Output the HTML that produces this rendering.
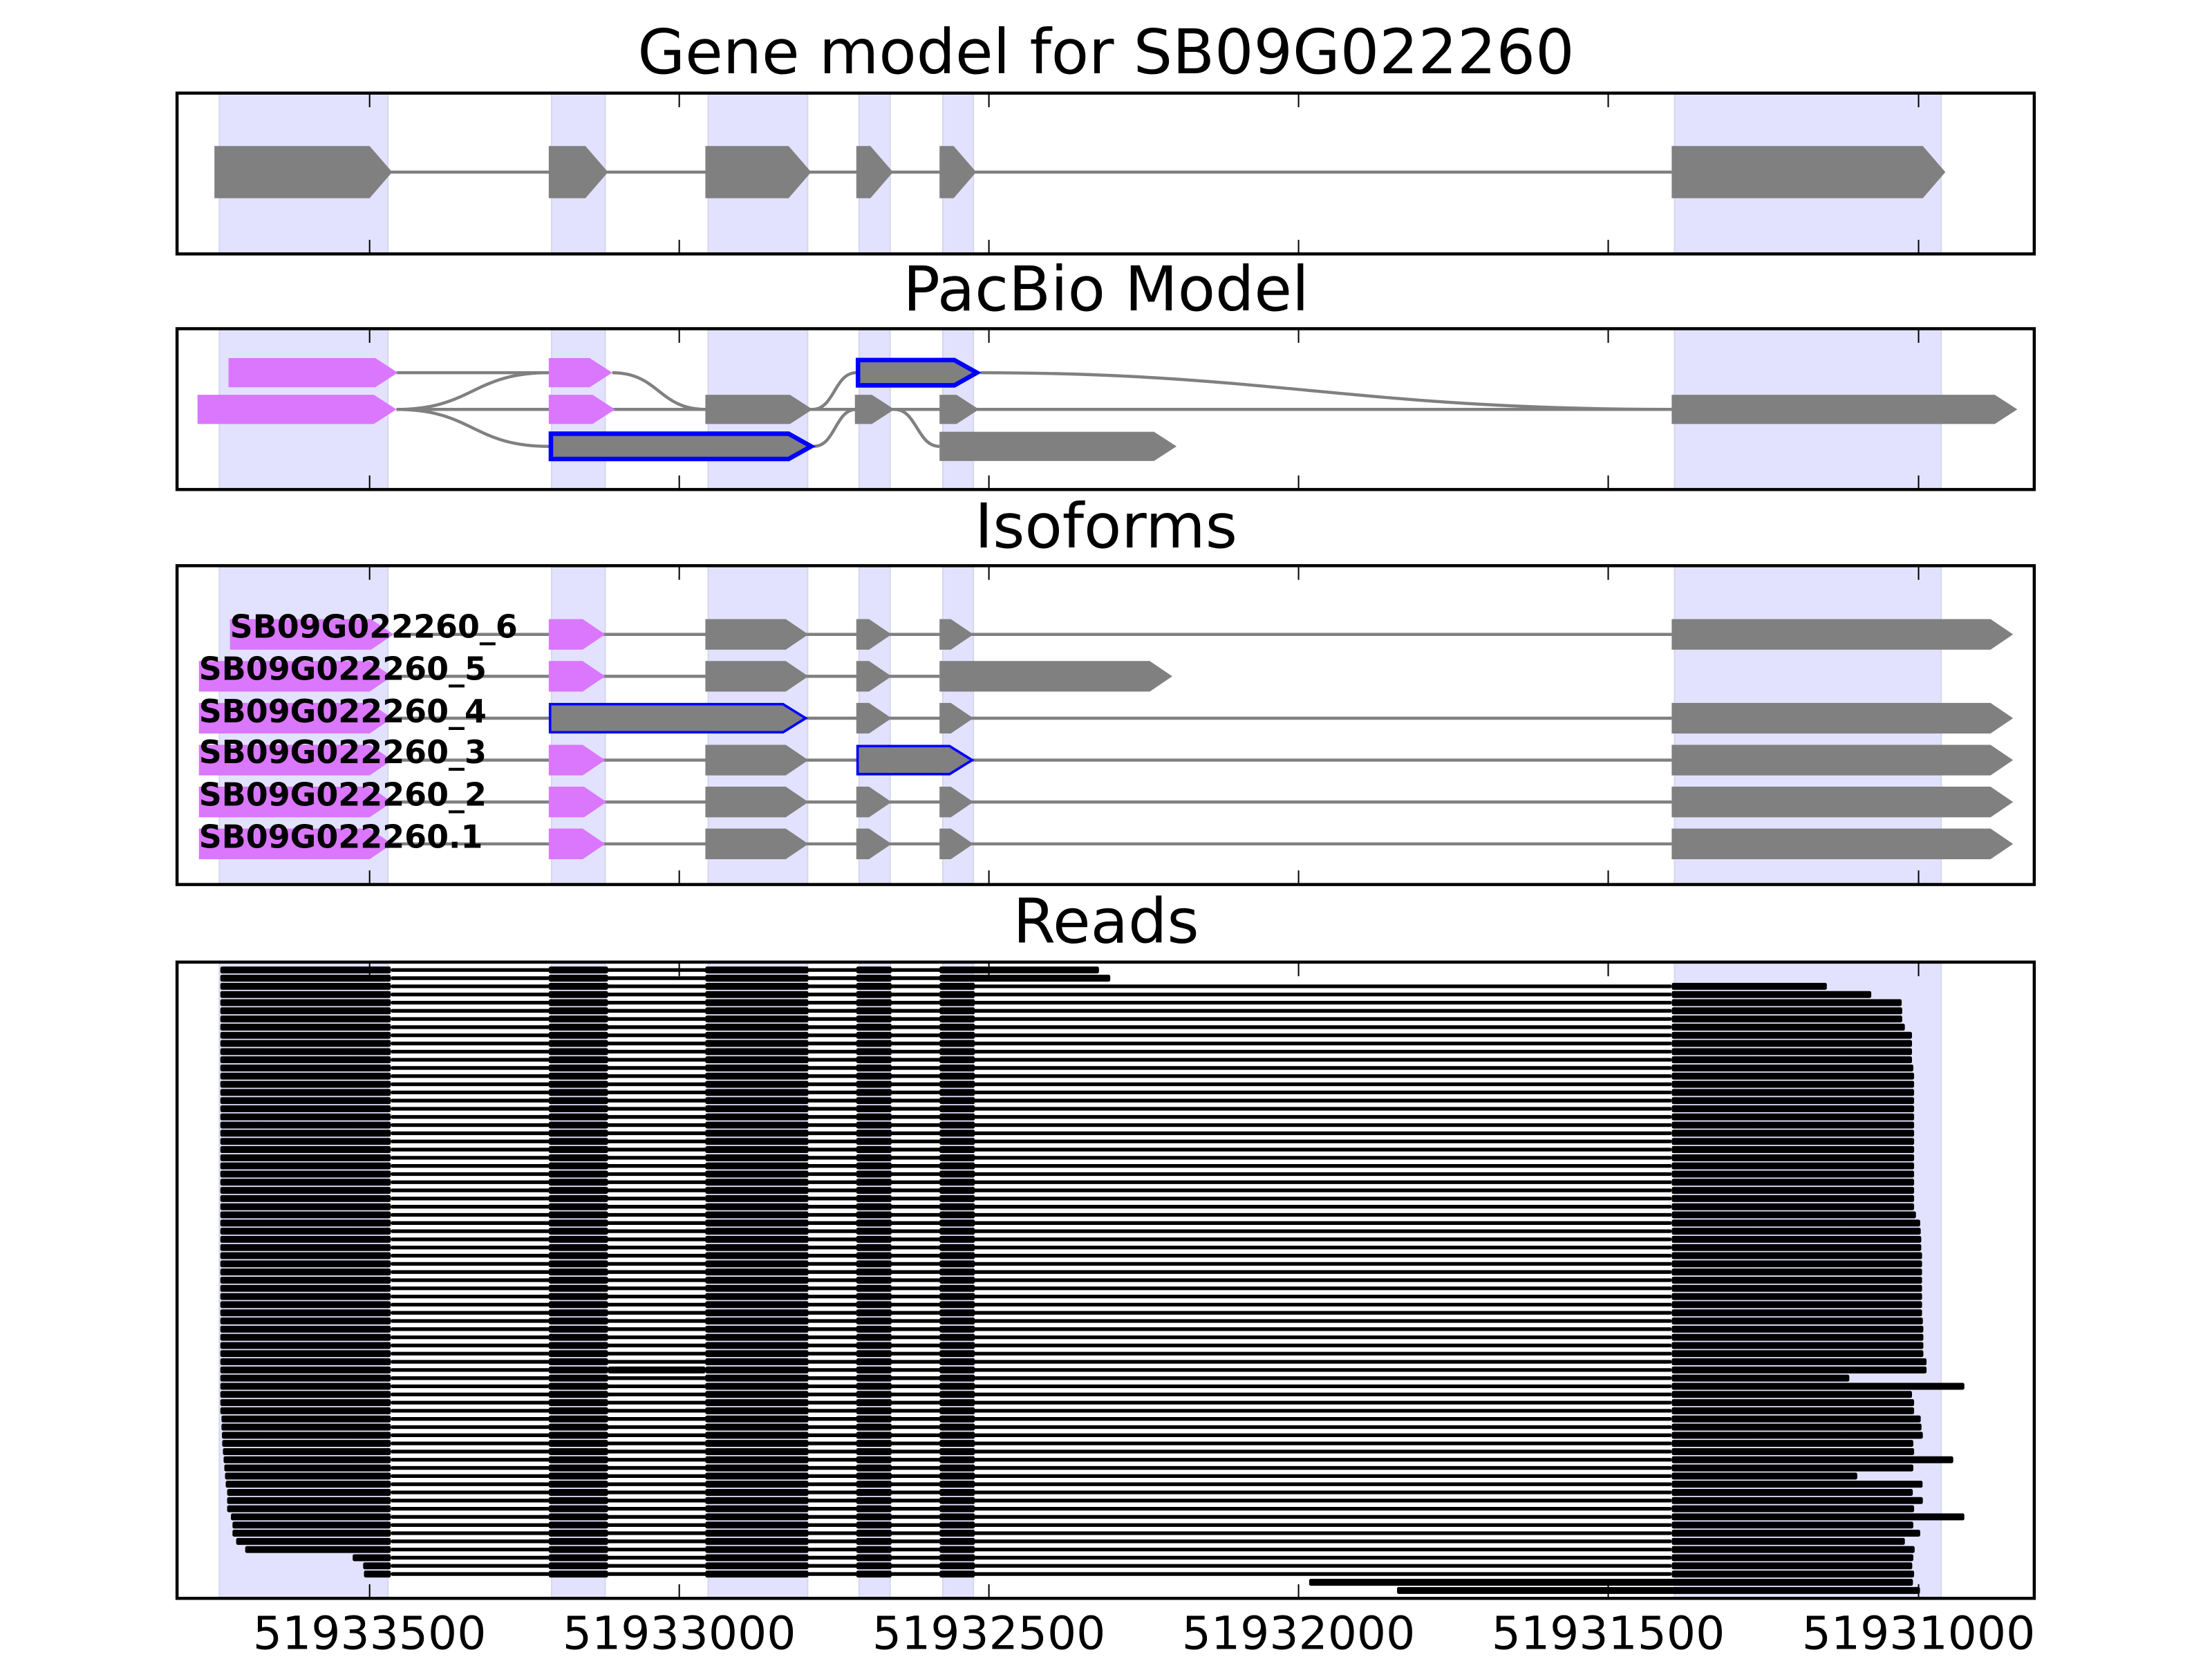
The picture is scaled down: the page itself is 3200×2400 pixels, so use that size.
<!DOCTYPE html>
<html><head><meta charset="utf-8"><style>
html,body{margin:0;padding:0;background:#fff;}
svg{display:block;}
</style></head><body>
<svg id="s" xmlns="http://www.w3.org/2000/svg" width="3200" height="2400" viewBox="0 0 1568 1176" preserveAspectRatio="none" font-family="'DejaVu Sans','Liberation Sans',sans-serif">
<rect width="1568" height="1176" fill="#fff"/>
<g id="bg"></g>
<g id="fg"></g>
<g id="ax"></g>
<g font-size="43.5" text-anchor="middle" fill="#000">
<text x="784" y="52">Gene model for SB09G022260</text>
<text x="784" y="220">PacBio Model</text>
<text x="784" y="388">Isoforms</text>
<text x="784" y="668">Reads</text>
</g>
<g font-size="22.5" font-weight="bold" fill="#000">
<text x="163" y="452">SB09G022260_6</text>
<text x="141" y="482">SB09G022260_5</text>
<text x="141" y="512">SB09G022260_4</text>
<text x="141" y="541">SB09G022260_3</text>
<text x="141" y="571">SB09G022260_2</text>
<text x="141" y="601">SB09G022260.1</text>
</g>
<g font-size="32.5" text-anchor="middle" fill="#000">
<text x="262" y="1169">51933500</text>
<text x="481.5" y="1169">51933000</text>
<text x="701" y="1169">51932500</text>
<text x="920.5" y="1169">51932000</text>
<text x="1140" y="1169">51931500</text>
<text x="1360" y="1169">51931000</text>
</g>
<script>
(function(){
var NS="http://www.w3.org/2000/svg";
var bg=document.getElementById('bg'),fg=document.getElementById('fg'),ax=document.getElementById('ax');
function el(p,t,a){var e=document.createElementNS(NS,t);for(var k in a)e.setAttribute(k,a[k]);p.appendChild(e);return e;}
var panels=[[66,180],[233,347],[401,627],[682,1133]];
var shades=[[155.5,275],[391,429],[502,572.5],[609,631],[668.3,690]];
shades.push([1187,1376]);
var GR='#808080',PK='#da77fd',BL='#0000ff';
panels.forEach(function(p){
  shades.forEach(function(s){el(bg,'rect',{x:s[0],y:p[0],width:s[1]-s[0],height:p[1]-p[0],fill:'#e2e2fe',stroke:'#d6d6ee','stroke-width':1});});
});
function arrow(x0,x1,yc,h,fill,stroke,sw){
  var hd=Math.min(16,x1-x0);var y0=yc-h/2,y1=yc+h/2;
  var d='M'+x0+','+y0+'L'+(x1-hd)+','+y0+'L'+x1+','+yc+'L'+(x1-hd)+','+y1+'L'+x0+','+y1+'Z';
  var a={d:d,fill:fill};if(stroke){a.stroke=stroke;a['stroke-width']=sw;a['stroke-linejoin']='miter';}
  el(fg,'path',a);
}
var LW=2.2;
function line(x0,x1,y){el(fg,'line',{x1:x0,x2:x1,y1:y,y2:y,stroke:GR,'stroke-width':LW});}
function curve(x1,y1,x2,y2,c1,c2){var m=(x1+x2)/2;c1=c1||m;c2=c2||m;el(fg,'path',{d:'M'+x1+','+y1+'C'+c1+','+y1+' '+c2+','+y2+' '+x2+','+y2,fill:'none',stroke:GR,'stroke-width':LW});}
// Panel 1
line(276,1185,122);
[[152,278],[389,431],[500,575],[607,633],[666,692],[1185,1379]].forEach(function(e){arrow(e[0],e[1],122,37,GR);});
// Panel 2
var A=264.2,B=290.2,C=316.4,H=20.7;
line(281,389,A);
line(281,1185,B);
curve(281,B,389,A);curve(281,B,389,C);
curve(434,A,500,B);
curve(576,B,607,A);curve(577,C,607,B);
curve(634,B,666,C);
curve(695,A,1185,B,900,960);
arrow(162,282,A,H,PK);arrow(389,434,A,H,PK);
arrow(608.2,692.5,A,H-2.8,GR,BL,3.2);
arrow(140,281,B,H,PK);arrow(389,436,B,H,PK);
arrow(500,576,B,H,GR);arrow(606,634,B,H,GR);arrow(666,694,B,H,GR);
arrow(1185,1430,B,H,GR);
arrow(390.5,575,C,H-2.8,GR,BL,3.2);
arrow(666,834,C,H,GR);
// Panel 3
var ys=[449.7,479.4,509.1,538.8,568.5,598.2],h3=21.7;
var iso=[
 [[163,279,'p'],[389,429,'p'],[500,573,'g'],[607,632,'g'],[666,690,'g'],[1185,1427,'g']],
 [[141,278,'p'],[389,429,'p'],[500,573,'g'],[607,632,'g'],[666,831,'g']],
 [[141,278,'p'],[389,572,'b'],[607,632,'g'],[666,690,'g'],[1185,1427,'g']],
 [[141,278,'p'],[389,429,'p'],[500,573,'g'],[607,690,'b'],[1185,1427,'g']],
 [[141,278,'p'],[389,430,'p'],[500,573,'g'],[607,632,'g'],[666,690,'g'],[1185,1427,'g']],
 [[141,278,'p'],[389,429,'p'],[500,573,'g'],[607,632,'g'],[666,690,'g'],[1185,1427,'g']]];
iso.forEach(function(r,i){
  var y=ys[i];line(r[0][1],r[r.length-1][0],y);
  r.forEach(function(e){
    if(e[2]=='p')arrow(e[0],e[1],y,h3,PK);
    else if(e[2]=='g')arrow(e[0],e[1],y,h3,GR);
    else arrow(e[0]+0.9,e[1]-0.9,y,h3-1.8,GR,BL,1.8);
  });
});
// Panel 4 reads
var ends={2:635,3:803,4:918,5:920,6:920,7:930,8:957,9:957,10:957,11:957,12:962,30:972,31:988,32:990,33:992,34:992,43:998,44:1000,45:1000,46:1000,47:1000,48:1012,49:1012,50:720,51:1155,52:957,53:965,54:965,55:990,56:993,57:998,58:962,59:965,60:1113,61:962,62:750,63:997,64:960,65:998,66:965,67:1155,68:962,69:988,70:930,71:967,72:962,73:958,74:965};
for(var i=13;i<=29;i++)ends[i]=965;for(i=35;i<=42;i++)ends[i]=995;
var starts={74:258,73:257.4,72:250,71:173.8,70:167.4,69:164.8,68:164.8,67:163.7,66:161,65:161,64:161,63:160,62:159.5,61:159,60:158.5,59:158,58:157.5,57:157.3,56:157,55:157};
var EH=4.9,IH=2.6;
function bar(x0,x1,y,hh){el(fg,'rect',{x:x0,y:y-hh/2,width:x1-x0,height:hh,fill:'#000',rx:Math.min(1.2,hh/2)});}
for(i=0;i<75;i++){
  var y=687.6+i*5.786;
  var s=starts[i]||156.2;
  var last=(i<2)?(i==0?779:787):1175.9+ends[i]*0.1875;
  bar(277,last>1185?1185:last,y,IH);
  bar(s,277,y,EH);bar(389,431,y,EH);bar(500,573,y,EH);bar(607,632,y,EH);
  if(i<2){bar(666,last,y,EH);}
  else{bar(666,691,y,EH);bar(1185,last,y,EH);}
  if(i==49)bar(431,500,y,EH);
}
// bottom extra reads
bar(928,1356,1121.6,EH);
bar(990.3,1361,1127.4,EH);
// axes
var ticks=[262,481.5,701,920.5,1140,1360];
panels.forEach(function(p){
  ticks.forEach(function(t){
    el(ax,'line',{x1:t,x2:t,y1:p[0],y2:p[0]+10,stroke:'#000','stroke-width':1});
    el(ax,'line',{x1:t,x2:t,y1:p[1],y2:p[1]-10,stroke:'#000','stroke-width':1});
  });
  el(ax,'rect',{x:125.5,y:p[0],width:1316.5,height:p[1]-p[0],fill:'none',stroke:'#000','stroke-width':2.2});
});
})();
</script>
</svg>
</body></html>
